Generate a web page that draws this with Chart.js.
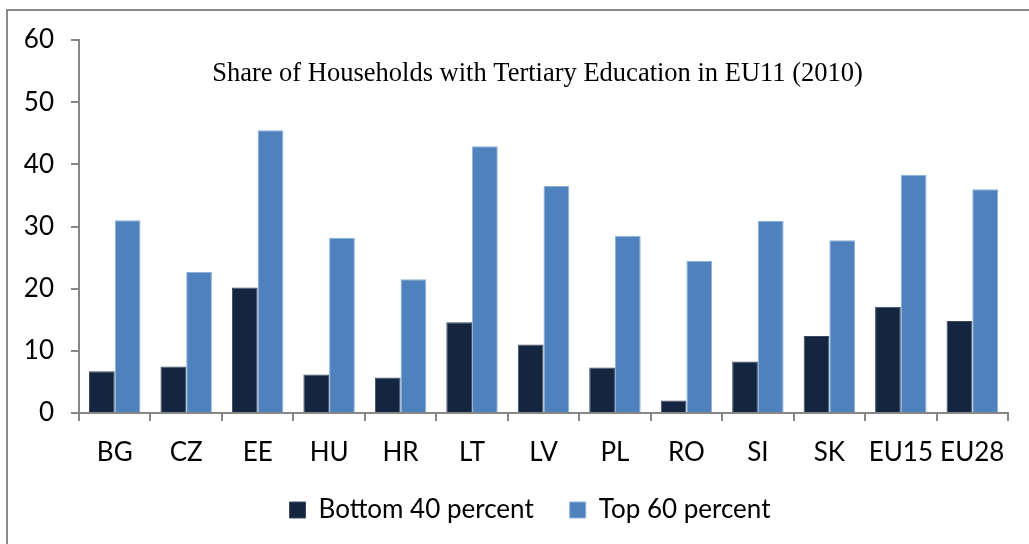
<!DOCTYPE html>
<html>
<head>
<meta charset="utf-8">
<script src="https://cdn.jsdelivr.net/npm/chart.js@4/dist/chart.umd.min.js"></script>
<style>
    html, body { margin: 0; padding: 0; background: #fff; overflow: hidden; }
    #wrap { position: relative; width: 1029px; height: 544px; }
    #frame {
        position: absolute; left: 6px; top: 9px; width: 1100px; height: 600px;
        border-top: 2px solid #8a8a8a; border-left: 2px solid #8a8a8a;
    }
    #myChart { position: absolute; left: 0; top: 0; }
</style>
</head>
<body>
<div id="wrap">
    <div id="frame"></div>
    <canvas id="myChart" width="1029" height="544"></canvas>
</div>
<script>
// data
const countries = ['BG', 'CZ', 'EE', 'HU', 'HR', 'LT', 'LV', 'PL', 'RO', 'SI', 'SK', 'EU15', 'EU28'];
const bottom40 = [6.7, 7.5, 20.2, 6.2, 5.7, 14.6, 11.0, 7.3, 2.0, 8.3, 12.4, 17.1, 14.8];
const top60 = [31.0, 22.7, 45.5, 28.2, 21.5, 42.9, 36.5, 28.5, 24.5, 30.9, 27.8, 38.3, 36.0];
const yTicks = [0, 10, 20, 30, 40, 50, 60];
const chartTitle = 'Share of Households with Tertiary Education in EU11 (2010)';

const axisColor = '#868686';
const labelFont = { family: 'Lato', size: 26 };

// title sits inside the plot area, so draw it by hand
const insideTitle = {
    id: 'insideTitle',
    afterDraw(chart) {
        const c = chart.ctx;
        const area = chart.chartArea;
        c.save();
        c.font = '26.5px "Liberation Serif"';
        c.fillStyle = '#000';
        c.textAlign = 'center';
        c.textBaseline = 'middle';
        c.fillText(chartTitle, (area.left + area.right) / 2 - 6, 74);
        c.restore();
    }
};

// nudge the legend to where it sits in the original
const legendNudge = {
    id: 'legendNudge',
    afterLayout(chart) {
        const lg = chart.legend;
        lg.left += 26;
        lg.right += 26;
        lg.top -= 8;
        lg.bottom -= 8;
    }
};

const ctx = document.getElementById('myChart');
const myChart = new Chart(ctx, {
    type: 'bar',
    data: {
        labels: countries,
        datasets: [
            {
                label: 'Bottom 40 percent',
                data: bottom40,
                backgroundColor: '#13253f',
                borderColor: '#3b4a60',
                borderWidth: 1
            },
            {
                label: 'Top 60 percent',
                data: top60,
                backgroundColor: '#4f81bd',
                borderColor: '#8db0dc',
                borderWidth: 1
            }
        ]
    },
    plugins: [insideTitle, legendNudge],
    options: {
        responsive: false,
        animation: false,
        devicePixelRatio: 1,
        layout: { padding: { top: 40, right: 21, bottom: 3, left: 0 } },
        datasets: {
            bar: { categoryPercentage: 0.72, barPercentage: 1.0 }
        },
        plugins: {
            title: { display: false },
            tooltip: { enabled: false },
            legend: {
                position: 'bottom',
                labels: {
                    color: '#000',
                    font: labelFont,
                    boxWidth: 16,
                    boxHeight: 16,
                    padding: 36
                }
            }
        },
        scales: {
            x: {
                afterFit: (scale) => { scale.height = 56; },
                grid: {
                    offset: true,
                    drawOnChartArea: false,
                    tickLength: 8,
                    color: axisColor,
                    lineWidth: 2
                },
                border: { color: axisColor, width: 2 },
                ticks: { color: '#000', font: labelFont, padding: 16 }
            },
            y: {
                min: 0,
                max: 60,
                afterFit: (scale) => { scale.width = 79; },
                afterBuildTicks: (scale) => { scale.ticks = yTicks.map(v => ({ value: v })); },
                grid: {
                    drawOnChartArea: false,
                    tickLength: 8,
                    color: axisColor,
                    lineWidth: 2
                },
                border: { color: axisColor, width: 2 },
                ticks: { color: '#000', font: labelFont, padding: 17 }
            }
        }
    }
});
</script>
</body>
</html>
